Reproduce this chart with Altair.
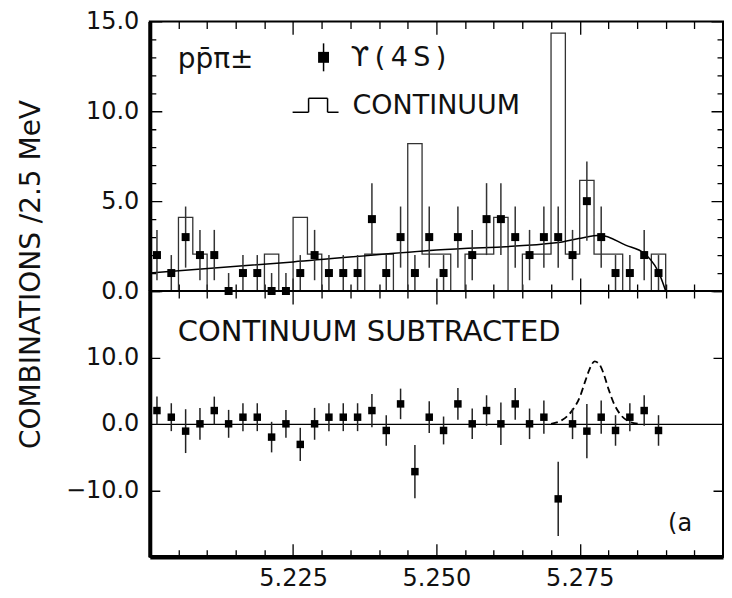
import altair as alt
import pandas as pd

# ---------------- data ----------------
# bin centres (2.5 MeV bins)
mass = [5.20125, 5.20375, 5.20625, 5.20875, 5.21125, 5.21375, 5.21625, 5.21875,
        5.22125, 5.22375, 5.22625, 5.22875, 5.23125, 5.23375, 5.23625, 5.23875,
        5.24125, 5.24375, 5.24625, 5.24875, 5.25125, 5.25375, 5.25625, 5.25875,
        5.26125, 5.26375, 5.26625, 5.26875, 5.27125, 5.27375, 5.27625, 5.27875,
        5.28125, 5.28375, 5.28625, 5.28875]
# bin edges of the continuum histogram
edges = [5.2000, 5.2025, 5.2050, 5.2075, 5.2100, 5.2125, 5.2150, 5.2175, 5.2200,
         5.2225, 5.2250, 5.2275, 5.2300, 5.2325, 5.2350, 5.2375, 5.2400, 5.2425,
         5.2450, 5.2475, 5.2500, 5.2525, 5.2550, 5.2575, 5.2600, 5.2625, 5.2650,
         5.2675, 5.2700, 5.2725, 5.2750, 5.2775, 5.2800, 5.2825, 5.2850, 5.2875,
         5.2900]
# Upsilon(4S) data (combinations per bin) and their error bars
u4s = [2, 1, 3, 2, 2, 0, 1, 1, 0, 0, 1, 2, 1, 1, 1, 4, 1, 3,
       1, 3, 1, 3, 2, 4, 4, 3, 2, 3, 3, 2, 5, 3, 1, 1, 2, 1]
u4s_err = [1.4, 1.0, 1.7, 1.4, 1.4, 1.0, 1.0, 1.0, 1.0, 1.0, 1.0, 1.4, 1.0, 1.0,
           1.0, 2.0, 1.0, 1.7, 1.0, 1.7, 1.0, 1.7, 1.4, 2.0, 2.0, 1.7, 1.4, 1.7,
           1.7, 1.4, 2.2, 1.7, 1.0, 1.0, 1.4, 1.0]
# scaled continuum histogram (per bin)
continuum = [0, 0, 4.1, 2.05, 0, 0, 0, 0, 2.05, 0, 4.1, 2.05, 0, 0, 0, 2.05,
             2.05, 0, 8.2, 2.05, 2.05, 0, 2.05, 2.05, 4.1, 0, 2.05, 2.05, 14.35,
             2.05, 6.15, 2.05, 2.05, 0, 0, 2.05]
# smooth continuum fit curve
fit_x = [5.2000, 5.2250, 5.2500, 5.2713, 5.2748, 5.2786, 5.2830, 5.2864, 5.2881,
         5.2890, 5.2900]
fit_y = [1.0, 1.62, 2.28, 2.7, 2.92, 3.1, 2.55, 2.06, 1.42, 0.87, 0.0]
# continuum-subtracted values and errors
sub = [2.0, 1.0, -1.1, 0.0, 2.0, 0.0, 1.0, 1.0, -2.0, 0.0, -3.1, 0.0, 1.0, 1.0,
       1.0, 2.0, -1.0, 3.0, -7.2, 1.0, -1.0, 3.0, 0.0, 2.0, 0.0, 3.0, 0.0, 1.0,
       -11.3, 0.0, -1.1, 1.0, -1.0, 1.0, 2.0, -1.0]
sub_err = [2.1, 2.1, 3.3, 2.4, 2.1, 2.1, 2.1, 2.1, 2.3, 2.1, 2.5, 2.4, 2.1, 2.1,
           2.1, 2.5, 2.3, 2.3, 4.0, 2.4, 2.1, 2.4, 2.3, 2.3, 3.2, 2.4, 2.3, 2.5,
           5.6, 2.3, 4.1, 2.5, 2.3, 2.1, 2.3, 2.3]
# dashed expected-signal curve in the lower panel
sig_x = [5.2700, 5.2720, 5.2735, 5.2750, 5.2760, 5.2768, 5.2776, 5.2784, 5.2792,
         5.2800, 5.2810, 5.2822, 5.2835, 5.2852]
sig_y = [0.0, 0.6, 1.8, 4.0, 6.5, 8.4, 9.4, 9.0, 7.5, 5.3, 3.0, 1.3, 0.4, 0.0]
# tick values
x_ticks = [5.200, 5.205, 5.210, 5.215, 5.220, 5.225, 5.230, 5.235, 5.240, 5.245,
           5.250, 5.255, 5.260, 5.265, 5.270, 5.275, 5.280, 5.285, 5.290, 5.295,
           5.300]
y_up_ticks = [0, 1, 2, 3, 4, 5, 6, 7, 8, 9, 10, 11, 12, 13, 14, 15]
y_low_ticks = [-20, -10, 0, 10, 20]

# ---------------- tables ----------------
pts = pd.DataFrame({"m": mass, "n": u4s, "e": u4s_err})
pts["lo"] = (pts["n"] - pts["e"]).clip(lower=0)
pts["hi"] = pts["n"] + pts["e"]
hist = pd.DataFrame({"m": edges, "c": continuum + [0.0]})
fit = pd.DataFrame({"m": fit_x, "f": fit_y})
low = pd.DataFrame({"m": mass, "s": sub, "e": sub_err})
low["lo"] = low["s"] - low["e"]
low["hi"] = low["s"] + low["e"]
sig = pd.DataFrame({"m": sig_x, "g": sig_y})
one = pd.DataFrame({"a": [0]})

# ---------------- styling ----------------
W, H1, H2 = 574, 270, 266
FONT = "DejaVu Sans"
INK = "#111111"

x_scale = alt.Scale(domain=[5.2, 5.3], nice=False, zero=False)
y1_scale = alt.Scale(domain=[0, 15], nice=False)
y2_scale = alt.Scale(domain=[-20, 20], nice=False)

major_x = "abs(datum.value*40 - round(datum.value*40)) < 0.001"

x_axis_up = alt.Axis(values=x_ticks, labels=False, ticks=False, domain=False,
                     title=None, grid=True, gridColor="black", gridOpacity=1,
                     gridWidth=1.3,
                     gridDash={"condition": {"test": major_x,
                                             "value": [13, H1 - 26, 13, 2000]},
                               "value": [7, H1 - 14, 7, 2000]})
y_axis_up = alt.Axis(values=y_up_ticks, ticks=False, tickSize=0, domain=True,
                     domainWidth=4, domainColor="black",
                     labelExpr="datum.value % 5 === 0 ? format(datum.value, '.1f') : ''",
                     labelFont=FONT, labelFontSize=24, labelColor=INK,
                     labelPadding=11, labelOverlap=False,
                     grid=True, gridColor="black", gridOpacity=1, gridWidth=1.3,
                     gridDash={"condition": {"test": "datum.value % 5 === 0",
                                             "value": [12, W - 24, 12, 2000]},
                               "value": [6, W - 12, 6, 2000]},
                     title="COMBINATIONS /2.5 MeV", titleX=-118, titleY=253,
                     titleAngle=270, titleAlign="center", titleBaseline="middle",
                     titleFont=FONT, titleFontSize=28, titleFontWeight="normal",
                     titleColor=INK)
x_axis_low = alt.Axis(values=x_ticks, ticks=False, tickSize=0, domain=True,
                      domainWidth=4.5, domainColor="black", title=None,
                      labelExpr=major_x + " && datum.value > 5.21 && datum.value < 5.29"
                                " ? format(datum.value, '.3f') : ''",
                      labelFont=FONT, labelFontSize=24, labelColor=INK,
                      labelPadding=10, labelOverlap=False, labelFlush=False,
                      grid=True, gridColor="black", gridOpacity=1, gridWidth=1.3,
                      gridDash={"condition": {"test": major_x,
                                              "value": [13, H2 - 26, 13, 2000]},
                                "value": [7, H2 - 14, 7, 2000]})
y_axis_low = alt.Axis(values=y_low_ticks, ticks=False, tickSize=0, domain=True,
                      domainWidth=4, domainColor="black", title=None,
                      labelExpr="abs(datum.value) < 15 ? format(datum.value, '.1f') : ''",
                      labelFont=FONT, labelFontSize=24, labelColor=INK,
                      labelPadding=11, labelOverlap=False,
                      grid=True, gridColor="black", gridOpacity=1, gridWidth=1.3,
                      gridDash={"condition": {"test": "datum.value === 0",
                                              "value": [3000, 1]},
                                "value": [10, W - 20, 10, 2000]})

X_up = lambda f: alt.X(f, type="quantitative", scale=x_scale, axis=x_axis_up)
Y_up = lambda f: alt.Y(f, type="quantitative", scale=y1_scale, axis=y_axis_up)
X_lo = lambda f: alt.X(f, type="quantitative", scale=x_scale, axis=x_axis_low)
Y_lo = lambda f: alt.Y(f, type="quantitative", scale=y2_scale, axis=y_axis_low)


def label(txt, x, y, size, align="left"):
    return alt.Chart(one).mark_text(text=txt, font=FONT, fontSize=size,
                                    color=INK, align=align,
                                    baseline="alphabetic").encode(
        x=alt.value(x), y=alt.value(y))


def seg(x1, x2, y1, y2):
    return alt.Chart(one).mark_rule(color="black", strokeWidth=1.5).encode(
        x=alt.value(x1), x2=alt.value(x2), y=alt.value(y1), y2=alt.value(y2))


# ---------------- upper panel ----------------
hist_line = alt.Chart(hist).mark_line(interpolate="step-after", color="#333333",
                                      strokeWidth=1.3).encode(
    x=X_up("m"), y=Y_up("c"))
fit_line = alt.Chart(fit).mark_line(interpolate="monotone", color="black",
                                    strokeWidth=1.5).encode(
    x=X_up("m"), y=Y_up("f"))
up_bars = alt.Chart(pts).mark_rule(color="#333333", strokeWidth=1.5).encode(
    x=X_up("m"), y=Y_up("lo"), y2="hi")
up_pts = alt.Chart(pts).mark_square(size=64, color="black", opacity=1).encode(
    x=X_up("m"), y=Y_up("n"))

legend_bar = seg(174, 174, 22, 50)
legend_pt = alt.Chart(one).mark_square(size=120, color="black", opacity=1).encode(
    x=alt.value(174), y=alt.value(36))

upper = alt.layer(
    hist_line, fit_line, up_bars, up_pts,
    label("pp\u0304\u03c0\u00b1", 28, 47, 28),
    legend_bar, legend_pt,
    label("\u03d2\u2009(\u20094\u2009S\u2009)", 201, 45, 27),
    seg(143, 159, 91, 91), seg(159, 159, 77, 91), seg(159, 178, 77, 77),
    seg(178, 178, 77, 91), seg(178, 189, 91, 91),
    label("CONTINUUM", 203, 93, 27),
).properties(width=W, height=H1)

# ---------------- lower panel ----------------
sig_line = alt.Chart(sig).mark_line(interpolate="monotone", color="black",
                                    strokeWidth=1.8, strokeDash=[7, 4]).encode(
    x=X_lo("m"), y=Y_lo("g"))
lo_bars = alt.Chart(low).mark_rule(color="#222222", strokeWidth=1.5).encode(
    x=X_lo("m"), y=Y_lo("lo"), y2="hi")
lo_pts = alt.Chart(low).mark_square(size=56, color="black", opacity=1).encode(
    x=X_lo("m"), y=Y_lo("s"))

lower = alt.layer(
    sig_line, lo_bars, lo_pts,
    label("CONTINUUM  SUBTRACTED", 28, 50, 29),
    label("(a", 519, 240, 24),
).properties(width=W, height=H2)

chart = alt.vconcat(upper, lower, spacing=0, bounds="flush").properties(
    padding={"left": 9, "top": 0, "right": 0, "bottom": 0},
    background="white",
).configure_view(stroke="black", strokeWidth=2)

chart.save("out.html", embed_options={"renderer": "svg", "actions": False})
